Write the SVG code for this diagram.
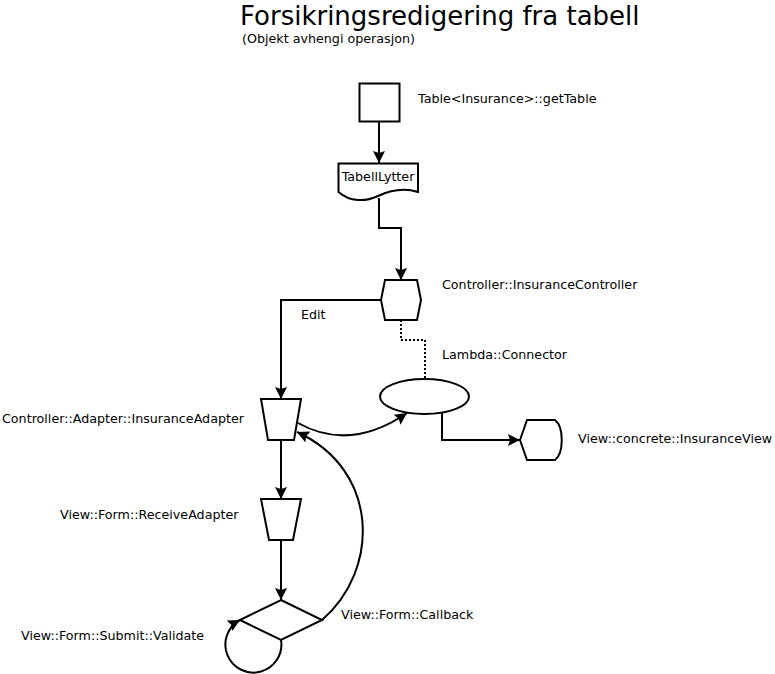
<svg xmlns="http://www.w3.org/2000/svg" width="775" height="674" viewBox="0 0 775 674">
<style>
.n{fill:#fff;stroke:#000;stroke-width:2}
.c{fill:none;stroke:#000;stroke-width:2}
.d{fill:none;stroke:#000;stroke-width:2;stroke-dasharray:2,2}
text{font-family:"DejaVu Sans",sans-serif;font-size:12.7px;fill:#000}
</style>
<defs>
<marker id="a" markerUnits="userSpaceOnUse" markerWidth="14" markerHeight="14" viewBox="0 0 14 14" refX="12" refY="7" orient="auto">
<path d="M0,1 L12,7 L0,13 L2,7 Z" fill="#000"/>
</marker>
</defs>
<rect width="775" height="674" fill="#fff"/>
<text x="240" y="25" style="font-size:26px">Forsikringsredigering fra tabell</text>
<text x="242" y="43" style="font-size:12.7px">(Objekt avhengi operasjon)</text>
<g id="connectors">
<path class="c" d="M379,122 V163" marker-end="url(#a)"/>
<path class="c" d="M379,198 V228 H401 V280" marker-end="url(#a)"/>
<path class="c" d="M381,300 H281 V399" marker-end="url(#a)"/>
<path class="d" d="M401,320 V340 H425 V379"/>
<path class="c" d="M298,423 Q350,452 407,413" marker-end="url(#a)"/>
<path class="c" d="M442,413 V440 H520" marker-end="url(#a)"/>
<path class="c" d="M281,440 V499" marker-end="url(#a)"/>
<path class="c" d="M281,540 V600" marker-end="url(#a)"/>
<path class="c" d="M322,620 C380,570 380,470 297,432" marker-end="url(#a)"/>
<path class="c" d="M281,640 A28,28 0 1 1 240,620" marker-end="url(#a)"/>
<text x="301" y="319">Edit</text>
<text x="341" y="619">View::Form::Callback</text>
<text x="442" y="359">Lambda::Connector</text>
</g>
<g id="getTable">
<rect class="n" x="359.5" y="83.5" width="40" height="38"/>
<text x="418" y="103">Table&lt;Insurance&gt;::getTable</text>
</g>
<g id="TabellLytter">
<path class="n" d="M338.5,163.5 H418 V192 C405,188 391,190 378,196 C365,202 350,202 338.5,192 Z"/>
<text x="378" y="181" text-anchor="middle">TabellLytter</text>
</g>
<g id="InsuranceController">
<polygon class="n" points="385,280 417,280 421,300 417,320 385,320 381,300"/>
<text x="442" y="289">Controller::InsuranceController</text>
</g>
<g id="Lambda">
<ellipse class="n" cx="424.5" cy="396.5" rx="44.5" ry="17.5"/>
</g>
<g id="InsuranceView">
<path class="n" d="M520,440 L527,420 H555 C564,427 564,453 555,460 H527 Z"/>
<text x="578" y="443">View::concrete::InsuranceView</text>
</g>
<g id="InsuranceAdapter">
<polygon class="n" points="261,399 301,399 294,440 268,440"/>
<text x="2" y="423">Controller::Adapter::InsuranceAdapter</text>
</g>
<g id="ReceiveAdapter">
<polygon class="n" points="261,499 301,499 293,540 269,540"/>
<text x="60" y="519">View::Form::ReceiveAdapter</text>
</g>
<g id="Validate">
<polygon class="n" points="281,600 322,620 281,640 240,620"/>
<text x="21" y="640">View::Form::Submit::Validate</text>
</g>
</svg>
